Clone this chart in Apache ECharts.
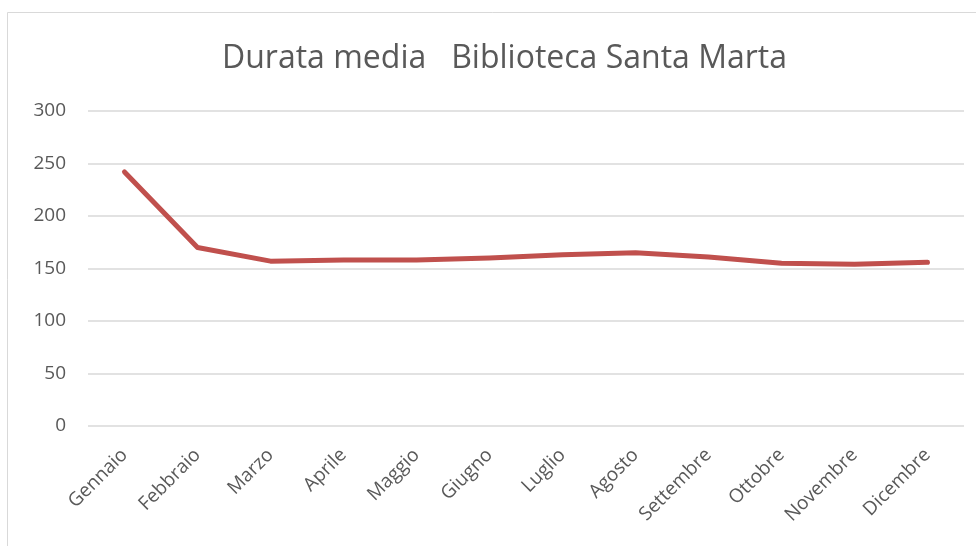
<!DOCTYPE html>
<html>
<head>
<meta charset="utf-8">
<script src="https://cdn.jsdelivr.net/npm/echarts@6/dist/echarts.min.js"></script>
<style>
  html, body { margin: 0; padding: 0; background: #fff; }
  #main { width: 976px; height: 546px; }
</style>
</head>
<body>
<div id="main"></div>
<script>
const months = ["Gennaio", "Febbraio", "Marzo", "Aprile", "Maggio", "Giugno",
  "Luglio", "Agosto", "Settembre", "Ottobre", "Novembre", "Dicembre"];
const durataMedia = [242, 170, 157, 158, 158, 160, 163, 165, 161, 155, 154, 156];

const chart = echarts.init(document.getElementById("main"));

const option = {
  backgroundColor: "#fff",
  animation: false,
  title: {
    text: "Durata media   Biblioteca Santa Marta",
    left: 217,
    top: 38,
    textStyle: {
      fontFamily: "Open Sans",
      fontSize: 32,
      fontWeight: "normal",
      color: "#595959",
    },
  },
  // outer chart border
  graphic: [
    {
      type: "rect",
      shape: { x: 7.5, y: 12.5, width: 980, height: 560 },
      style: { fill: "none", stroke: "#d9d9d9", lineWidth: 1 },
      silent: true,
    },
  ],
  grid: {
    left: 88,
    right: 12,
    top: 111,
    bottom: 120,
  },
  xAxis: {
    type: "category",
    data: months,
    boundaryGap: true,
    axisLine: { show: false },
    axisTick: { show: false },
    axisLabel: {
      rotate: 45,
      interval: 0,
      margin: 26,
      fontFamily: "Open Sans",
      fontSize: 19,
      color: "#595959",
    },
  },
  yAxis: {
    type: "value",
    min: 0,
    max: 300,
    interval: 50,
    axisLine: { show: false },
    axisTick: { show: false },
    splitLine: { lineStyle: { color: "#d9d9d9", width: 1.5 } },
    axisLabel: {
      margin: 22,
      fontFamily: "Open Sans",
      fontSize: 19,
      color: "#595959",
    },
  },
  series: [
    {
      type: "line",
      data: durataMedia,
      showSymbol: false,
      silent: true,
      lineStyle: { color: "#C0504D", width: 5, cap: "round", join: "round" },
    },
  ],
};

chart.setOption(option);
</script>
</body>
</html>
